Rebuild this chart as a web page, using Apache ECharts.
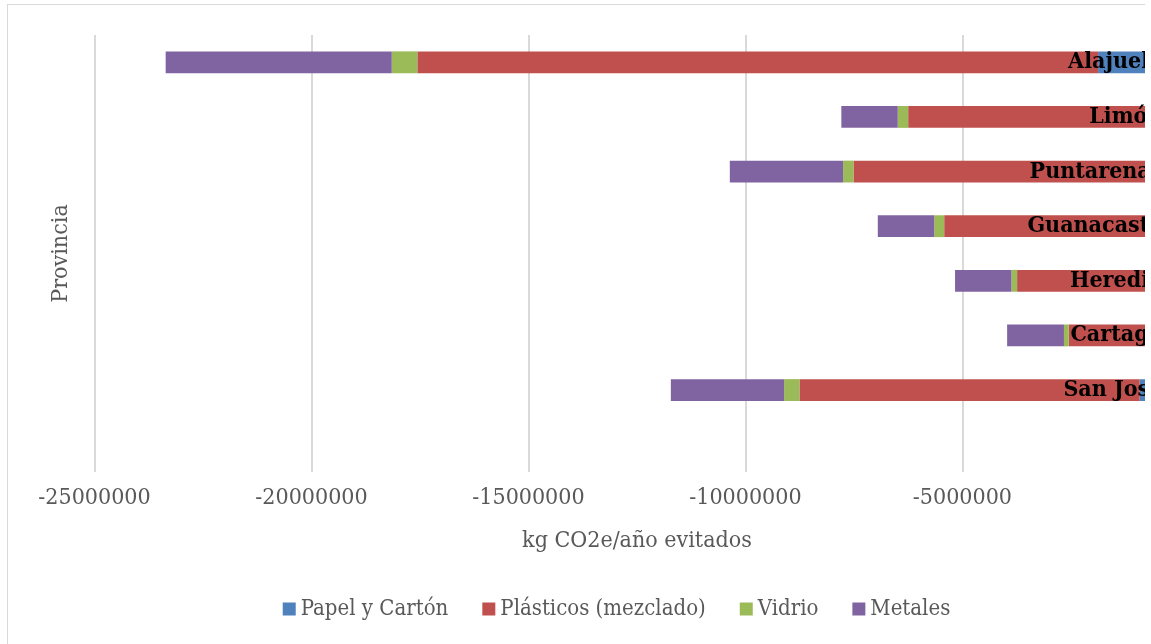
<!DOCTYPE html>
<html>
<head>
<meta charset="utf-8">
<script src="https://cdn.jsdelivr.net/npm/echarts@6/dist/echarts.min.js"></script>
<style>
  html, body { margin: 0; padding: 0; background: #fff; overflow: hidden; }
  #clip { position: absolute; left: 0; top: 0; width: 1145px; height: 644px; overflow: hidden; }
  #chart { position: absolute; left: 7px; top: 4px; width: 1219px; height: 700px;
           box-sizing: border-box; border: 1.5px solid #d9d9d9; }
</style>
</head>
<body>
<div id="clip"><div id="chart"></div></div>
<script>
// Provinces, bottom to top (first slot is an empty row)
const provincias = ['', 'San José', 'Cartago', 'Heredia', 'Guanacaste', 'Puntarenas', 'Limón', 'Alajuela'];

// kg CO2e/año evitados per material
const papelCarton = [null, -915000, -550000, -600000, -450000, -500000, -400000, -1874000];
const plasticos   = [null, -7840000, -2000000, -3140000, -4970000, -7010000, -5850000, -15686000];
const vidrio      = [null, -354000, -110000, -130000, -230000, -240000, -240000, -590000];
const metales     = [null, -2610000, -1310000, -1300000, -1300000, -2610000, -1300000, -5210000];

const xTicks = { min: -25000000, max: 0, interval: 5000000 };

const FONT = "'DejaVu Serif Condensed', 'DejaVu Serif', serif";
const GRAY = '#595959';

const chart = echarts.init(document.getElementById('chart'), null, { renderer: 'canvas' });

function barSeries(name, data, color) {
  return {
    name, type: 'bar', stack: 'total', data,
    barWidth: '40%',
    itemStyle: { color },
    emphasis: { disabled: true }
  };
}

chart.setOption({
  animation: false,
  color: ['#4F81BD', '#C0504D', '#9BBB59', '#8064A2'],
  grid: { left: 86.5, right: 45.6, top: 30, height: 437 },
  legend: {
    left: 'center', top: 588,
    icon: 'rect', itemWidth: 13, itemHeight: 13, itemGap: 34, itemStyle: { borderWidth: 0 },
    textStyle: { fontFamily: FONT, fontSize: 22, color: GRAY },
    data: ['Papel y Cartón', 'Plásticos (mezclado)', 'Vidrio', 'Metales']
  },
  xAxis: {
    type: 'value',
    min: xTicks.min, max: xTicks.max, interval: xTicks.interval,
    name: 'kg CO2e/año evitados',
    nameLocation: 'middle', nameGap: 58,
    nameTextStyle: { fontFamily: FONT, fontSize: 23, color: GRAY },
    axisLine: { show: false }, axisTick: { show: false },
    axisLabel: { fontFamily: FONT, fontSize: 23, color: GRAY, margin: 15,
                 formatter: v => String(v) },
    splitLine: { lineStyle: { color: '#d9d9d9', width: 2 } }
  },
  yAxis: [{
    type: 'category', data: provincias, position: 'right', z: 10,
    axisLine: { show: false }, axisTick: { show: false },
    axisLabel: { inside: true, margin: 17, fontFamily: FONT, fontSize: 23,
                 fontWeight: 'bold', color: '#000' }
  }, {
    type: 'category', data: provincias, position: 'left',
    name: 'Provincia', nameLocation: 'middle', nameGap: 22, nameRotate: 90,
    nameTextStyle: { fontFamily: FONT, fontSize: 23, color: GRAY },
    axisLine: { show: false }, axisTick: { show: false }, axisLabel: { show: false }
  }],
  series: [
    barSeries('Papel y Cartón', papelCarton, '#4F81BD'),
    barSeries('Plásticos (mezclado)', plasticos, '#C0504D'),
    barSeries('Vidrio', vidrio, '#9BBB59'),
    barSeries('Metales', metales, '#8064A2')
  ]
});
</script>
</body>
</html>
